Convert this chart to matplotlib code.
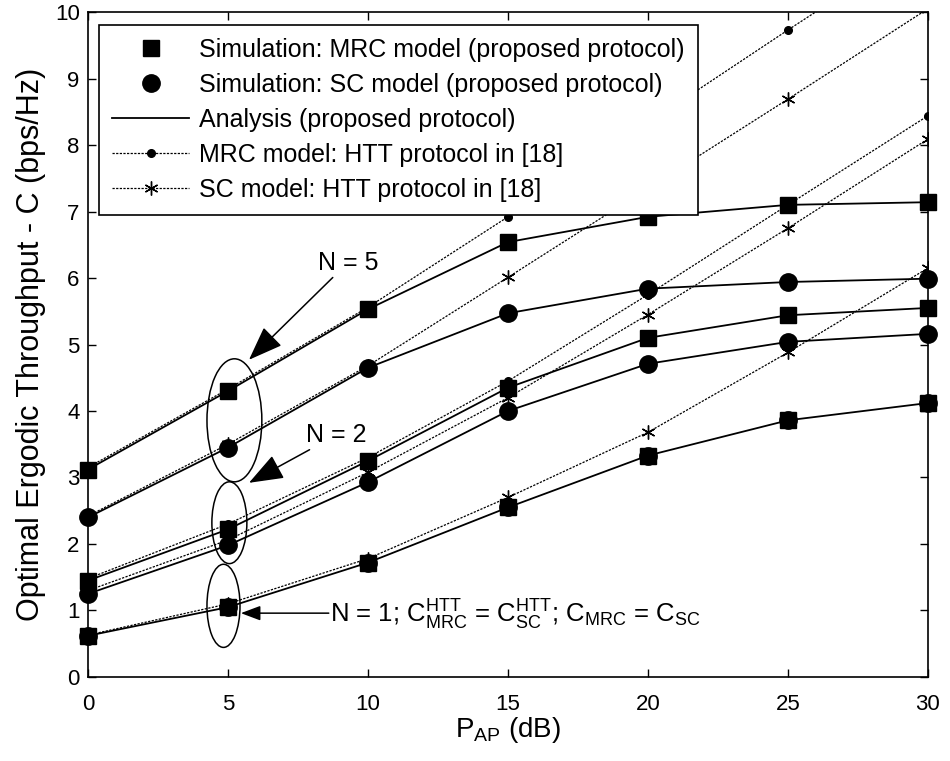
import numpy as np
import matplotlib
matplotlib.use('Agg')
import matplotlib.pyplot as plt
from matplotlib.patches import Ellipse

plt.rcParams['font.family'] = ['Liberation Sans', 'DejaVu Sans']
plt.rcParams['mathtext.fontset'] = 'custom'
plt.rcParams['mathtext.rm'] = 'Liberation Sans'
plt.rcParams['mathtext.it'] = 'Liberation Sans:italic'

# transmit power of the AP (dB)
p_ap = [0, 5, 10, 15, 20, 25, 30]

# proposed protocol (analysis = simulation)
mrc_n5 = [3.12, 4.30, 5.53, 6.54, 6.92, 7.10, 7.14]
sc_n5 = [2.40, 3.45, 4.65, 5.47, 5.84, 5.94, 5.99]
mrc_n2 = [1.45, 2.22, 3.25, 4.35, 5.10, 5.44, 5.55]
sc_n2 = [1.25, 1.98, 2.93, 4.00, 4.71, 5.04, 5.16]
mrc_n1 = [0.62, 1.05, 1.72, 2.55, 3.33, 3.86, 4.12]
sc_n1 = [0.62, 1.05, 1.72, 2.55, 3.33, 3.86, 4.12]

# HTT protocol in [18]
htt_mrc_n5 = [3.15, 4.33, 5.56, 6.92, 8.33, 9.73, 11.10]
htt_sc_n5 = [2.42, 3.50, 4.68, 6.01, 7.35, 8.69, 10.05]
htt_mrc_n2 = [1.48, 2.30, 3.30, 4.45, 5.75, 7.10, 8.44]
htt_sc_n2 = [1.30, 2.06, 3.08, 4.20, 5.45, 6.75, 8.09]
htt_n1 = [0.63, 1.10, 1.78, 2.70, 3.68, 4.88, 6.15]

fig = plt.figure(figsize=(9.5, 7.61), dpi=100)
ax = fig.add_axes([0.0926, 0.1104, 0.8842, 0.8738])

dot = (0, (1.8, 1.1))
star = (6, 2, 0)

# HTT curves (dotted)
for y in [htt_mrc_n5, htt_mrc_n2]:
    ax.plot(p_ap, y, color='k', lw=0.9, ls=dot, marker='o', ms=5.5)
for y in [htt_sc_n5, htt_sc_n2, htt_n1]:
    ax.plot(p_ap, y, color='k', lw=0.9, ls=dot, marker=star, ms=10, mew=1.0)

# analysis curves
for y in [mrc_n5, sc_n5, mrc_n2, sc_n2, mrc_n1]:
    ax.plot(p_ap, y, color='k', lw=1.3)

# simulation points
for y in [sc_n5, sc_n2, sc_n1]:
    ax.plot(p_ap, y, ls='none', color='k', marker='o', ms=12.5, clip_on=False)
for y in [mrc_n5, mrc_n2, mrc_n1]:
    ax.plot(p_ap, y, ls='none', color='k', marker='s', ms=12, clip_on=False)

# legend handles
h1, = ax.plot([], [], ls='none', color='k', marker='s', ms=12)
h2, = ax.plot([], [], ls='none', color='k', marker='o', ms=12.5)
h3, = ax.plot([], [], color='k', lw=1.3)
h4, = ax.plot([], [], color='k', lw=0.9, ls=dot, marker='o', ms=5.5)
h5, = ax.plot([], [], color='k', lw=0.9, ls=dot, marker=star, ms=10, mew=1.0)
leg = ax.legend([h1, h2, h3, h4, h5],
                ['Simulation: MRC model (proposed protocol)',
                 'Simulation: SC model (proposed protocol)',
                 'Analysis (proposed protocol)',
                 'MRC model: HTT protocol in [18]',
                 'SC model: HTT protocol in [18]'],
                loc='upper left', bbox_to_anchor=(0.013, 0.981),
                fontsize=18, handlelength=3.1, handletextpad=0.4,
                labelspacing=0.44, borderpad=0.52, borderaxespad=0,
                fancybox=False, framealpha=1, edgecolor='k')
leg.get_frame().set_linewidth(1.2)

# ellipses and annotations
for cx, cy, w, h in [(5.23, 3.86, 1.96, 1.85), (5.05, 2.32, 1.25, 1.23),
                     (4.84, 1.07, 1.18, 1.25)]:
    ax.add_patch(Ellipse((cx, cy), w, h, fill=False, ec='k', lw=1.1))

arrow = dict(arrowstyle='-|>,head_length=1.2,head_width=0.45', color='k', lw=1.1,
             shrinkA=0, shrinkB=0)
ax.annotate('N = 5', xy=(5.75, 4.77), xytext=(8.2, 6.23), fontsize=18,
            ha='left', va='center', arrowprops=arrow)
ax.annotate('N = 2', xy=(5.75, 2.92), xytext=(7.8, 3.64), fontsize=18,
            ha='left', va='center', arrowprops=arrow)
ax.annotate('', xy=(5.46, 0.96), xytext=(8.6, 0.96), arrowprops=arrow)
ax.text(8.65, 0.93,
        r'N = 1; $\mathregular{C^{HTT}_{MRC}}$ = $\mathregular{C^{HTT}_{SC}}$; '
        r'$\mathregular{C_{MRC}}$ = $\mathregular{C_{SC}}$',
        fontsize=18.5, ha='left', va='center')

ax.set_xlim(0, 30)
ax.set_ylim(0, 10)
ax.set_xticks(range(0, 31, 5))
ax.set_yticks(range(0, 11))
ax.tick_params(direction='in', top=True, right=True, length=6, width=1,
               labelsize=16)
ax.tick_params(axis='x', pad=12)
ax.tick_params(axis='y', pad=6)
for s in ax.spines.values():
    s.set_linewidth(1.2)

ax.set_xlabel(r'$\mathregular{P_{AP}}$ (dB)', fontsize=20, labelpad=0)
ax.set_ylabel('Optimal Ergodic Throughput - C (bps/Hz)', fontsize=22, labelpad=6)

fig.savefig('out.png', dpi=100)
